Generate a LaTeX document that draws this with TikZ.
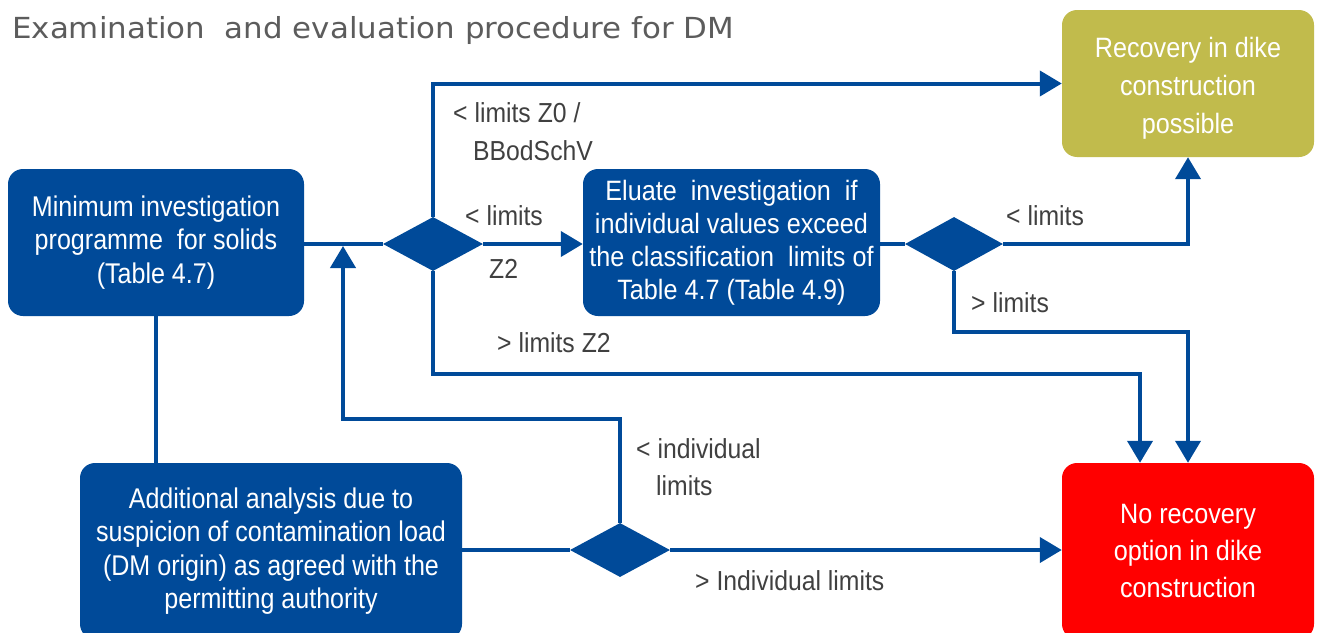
\documentclass[tikz,border=0pt]{standalone}
\usepackage{fontspec}
\setmainfont{Liberation Sans}
\newfontfamily\narrowfont{Liberation Sans}[FakeStretch=0.88]
\newfontfamily\midfont{Liberation Sans}[FakeStretch=0.9]
\newfontfamily\labelfont{Liberation Sans}[FakeStretch=0.9]
\newfontfamily\titlefont{DejaVu Sans}[FakeStretch=1.065]
\usetikzlibrary{arrows.meta,shapes.geometric}
\definecolor{dmblue}{RGB}{0,74,153}
\definecolor{okolive}{RGB}{193,187,76}
\definecolor{labelgray}{RGB}{64,64,64}
\definecolor{titlegray}{RGB}{92,92,92}

\begin{document}
\begin{tikzpicture}[x=1pt,y=-1pt,
  box/.style={rectangle, rounded corners=15pt, fill=dmblue, text=white,
    align=center, inner sep=0pt},
  narrowtext/.style={font=\narrowfont\fontsize{28.5}{33.5}\selectfont},
  midtext/.style={font=\midfont\fontsize{28}{33}\selectfont},
  decision/.style={diamond, fill=dmblue, minimum width=100pt,
    minimum height=54pt, inner sep=0pt},
  flow/.style={draw=dmblue, line width=4pt},
  arr/.style={flow, -{Triangle[length=22pt,width=25pt]}},
  lbl/.style={text=labelgray, font=\labelfont\fontsize{27.5}{38}\selectfont,
    inner sep=0pt, align=left}]

\useasboundingbox (0,0) rectangle (1319,632);
\begin{scope}
\clip (0,0) rectangle (1319,632);

% title
\node[anchor=base west, inner sep=0pt, text=titlegray,
  font=\titlefont\fontsize{29}{32}\selectfont] (title) at (12,38)
  {Examination\ \ and evaluation\ procedure for DM};

% process boxes
\node[box, narrowtext, minimum width=296pt, minimum height=147pt] (b1) at (156,242.5)
  {Minimum investigation\\programme\ \ for solids\\(Table 4.7)};
\node[box, midtext, minimum width=297pt, minimum height=147pt] (b2) at (731.5,242.5)
  {Eluate\ \ investigation\ \ if\\individual values exceed\\the classification\ \ limits of\\Table 4.7 (Table 4.9)};
\node[box, narrowtext, minimum width=382pt, minimum height=176pt] (b3) at (271,551)
  {Additional\ analysis due to\\suspicion of contamination load\\(DM origin) as agreed with\ the\\permitting authority};

% outcomes
\node[box, fill=okolive, minimum width=252pt, minimum height=147pt,
  font=\midfont\fontsize{28}{38}\selectfont] (rec) at (1188,83.5)
  {\rule{0pt}{29pt}Recovery in dike\\construction\\possible};
\node[box, fill=red, minimum width=252pt, minimum height=176pt,
  font=\midfont\fontsize{28}{37}\selectfont] (nrec) at (1188,551)
  {No recovery\\option in dike\\construction};

% decisions
\node[decision] (d1) at (433,244) {};
\node[decision, minimum width=98pt] (d2) at (954,244) {};
\node[decision] (d3) at (620,550) {};

\coordinate (fb) at (343,246);

% connectors
\draw[flow] (b1.east |- d1.west) -- (d1.west);
\draw[arr] (d1.east) -- (b2.west |- d1.east);
\draw[arr] (d1.north) |- (rec.west);
\draw[arr] (d1.south) -- ++(0,103) -| ([xshift=-48pt]nrec.north);
\draw[flow] (b2.east |- d2.west) -- (d2.west);
\draw[arr] (d2.east) -| (rec.south);
\draw[arr] (d2.south) -- ++(0,61) -| (nrec.north);
\draw[draw=dmblue, line width=3.5pt] (b1.south) -- (b1.south |- b3.north);
\draw[flow] (b3.east |- d3.west) -- (d3.west);
\draw[arr] (d3.east) -- (nrec.west |- d3.east);
\draw[arr] (d3.north) -- ++(0,-104) -| (fb);

% branch labels (base anchor = last line)
\node[lbl, anchor=base west] (l1) at (453,160)
  {< limits Z0 /\\\hspace*{20pt}BBodSchV};
\node[lbl, anchor=base west] (l2) at (465,278)
  {< limits\\[15pt]\hspace*{24pt}Z2};
\node[lbl, anchor=base west] (l3) at (497,352) {> limits Z2};
\node[lbl, anchor=base west] (l4) at (1006,225) {< limits};
\node[lbl, anchor=base west] (l5) at (971,312) {> limits};
\node[lbl, anchor=base west, font=\labelfont\fontsize{27.5}{37}\selectfont] (l6) at (636,495)
  {< individual\\\hspace*{20pt}limits};
\node[lbl, anchor=base west] (l7) at (695,590) {> Individual limits};
\end{scope}
\end{tikzpicture}
\end{document}
